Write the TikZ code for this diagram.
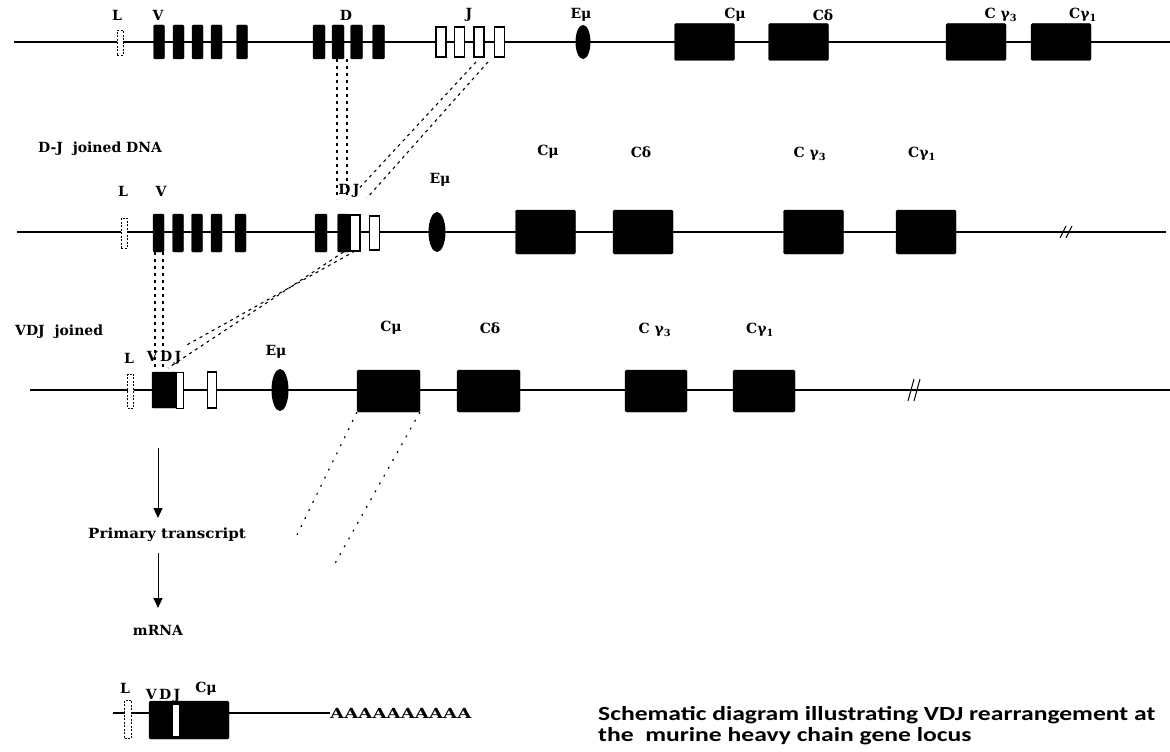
\documentclass[tikz,border=0pt]{standalone}
\usepackage{fontspec}
\setmainfont{DejaVu Serif}
\newfontfamily\capfont{Carlito}
\usetikzlibrary{shapes.geometric,arrows.meta,calc}
\begin{document}
\begin{tikzpicture}[x=1pt,y=-1pt,
  dna/.style={line width=1.6pt},
  blk/.style={fill=black,draw=black,rounded corners=1.2pt,inner sep=0,outer sep=0,minimum width=11pt,minimum height=34pt},
  opn/.style={fill=white,draw=black,line width=1.2pt,inner sep=0,outer sep=0,minimum width=10pt,minimum height=30pt},
  ldash/.style={fill=white,draw=black,dashed,dash pattern=on 2pt off 1.5pt,line width=0.9pt,inner sep=0,outer sep=0,minimum width=6pt,minimum height=25pt},
  cbox/.style={fill=black,draw=black,rounded corners=1.5pt,inner sep=0,outer sep=0,minimum width=60pt,minimum height=37pt},
  enh/.style={ellipse,fill=black,inner sep=0,outer sep=0,minimum width=15pt,minimum height=34pt},
  lbl/.style={font=\fontsize{14}{15}\selectfont\bfseries,inner sep=1pt},
  conn/.style={line width=1.1pt,dash pattern=on 3pt off 4pt},
  brk/.style={line width=1pt},
  arr/.style={line width=0.9pt,-{Triangle[width=9pt,length=10pt]}}
]
\useasboundingbox (0,0) rectangle (1170,752);

% ================= Row 1: germline =================
\draw[dna] (14,42) -- (1170,42);
\node[ldash] (L1) at (120,43) {};
\foreach \x [count=\i] in {159,178.5,197.5,216.5,242}
  \node[blk] (v1\i) at (\x,42) {};
\foreach \x [count=\i] in {319,338,356.5,378.5}
  \node[blk,minimum width=12pt] (d1\i) at (\x,42) {};
\foreach \x [count=\i] in {441,459.5,479,499.5}
  \node[opn] (j1\i) at (\x,42) {};
\node[enh] (e1) at (583,42) {};
\node[cbox] (cm1) at (704.5,42) {};
\node[cbox] (cd1) at (798.5,42) {};
\node[cbox] (cg31) at (976,42) {};
\node[cbox] (cg11) at (1061,42) {};
\node[lbl] (tL1) at (117,15) {L};
\node[lbl] (tV1) at (158,15) {V};
\node[lbl] (tD1) at (346,15) {D};
\node[lbl] (tJ1) at (469,15) {J};
\node[lbl] (tE1) at (581,15) {Eμ};
\node[lbl] (tCm1) at (735,15) {Cμ};
\node[lbl] (tCd1) at (823,15) {Cδ};
\node[lbl] (tCg31) at (1001,15) {C γ\textsubscript{3}};
\node[lbl] (tCg11) at (1083,15) {Cγ\textsubscript{1}};

% ================= Row 2: D-J joined =================
\node[lbl,anchor=west] (t2) at (37,149) {D-J \ joined DNA};
\draw[dna] (17,232) -- (1166,232);
\node[ldash,minimum height=30pt] (L2) at (124,233) {};
\foreach \x [count=\i] in {158.5,178,197,216.5,240.5}
  \node[blk,minimum height=38pt] (v2\i) at (\x,233) {};
\node[blk,minimum width=12pt,minimum height=38pt] (d21) at (321,233) {};
\node[blk,minimum width=12pt,minimum height=38pt] (djD) at (343.5,233) {};
\node[opn,minimum width=10pt,minimum height=36pt] (djJ) at (355,233) {};
\node[opn,minimum width=10pt,minimum height=34pt] (j22) at (374.5,233) {};
\node[enh,minimum width=17pt,minimum height=40pt] (e2) at (437,232) {};
\node[cbox,minimum height=44pt] (cm2) at (545.5,232) {};
\node[cbox,minimum height=44pt] (cd2) at (643,232) {};
\node[cbox,minimum height=44pt] (cg32) at (813.5,232) {};
\node[cbox,minimum height=44pt] (cg12) at (926,232) {};
\draw[brk] (1060,238) -- (1066,226) (1066,238) -- (1072,226);
\node[lbl] (tL2) at (123,191) {L};
\node[lbl] (tV2) at (161,191) {V};
\node[lbl] (tDJ2) at (349,191) {D\,J};
\node[lbl] (tE2) at (440,180) {Eμ};
\node[lbl] (tCm2) at (548,152) {Cμ};
\node[lbl] (tCd2) at (641,152) {Cδ};
\node[lbl] (tCg32) at (810,154) {C γ\textsubscript{3}};
\node[lbl] (tCg12) at (922,154) {Cγ\textsubscript{1}};

% ================= Row 3: VDJ joined =================
\node[lbl,anchor=west] (t3) at (14,332) {VDJ \ joined};
\draw[dna] (30,390) -- (1170,390);
\node[ldash,minimum height=34pt] (L3) at (130.5,391) {};
\node[blk,minimum width=25pt,minimum height=36pt,rounded corners=1pt] (vdj3) at (164.5,390) {};
\node[opn,minimum width=7pt,minimum height=36pt,line width=1pt] (vdjJ) at (180,390) {};
\node[opn,minimum width=9pt,minimum height=36pt] (j32) at (212,390) {};
\node[enh,minimum width=17pt,minimum height=42pt] (e3) at (280,390) {};
\node[cbox,minimum width=63pt,minimum height=42pt] (cm3) at (388.5,391) {};
\node[cbox,minimum width=63pt,minimum height=42pt] (cd3) at (488.5,391) {};
\node[cbox,minimum width=62pt,minimum height=42pt] (cg33) at (656,391) {};
\node[cbox,minimum width=62pt,minimum height=42pt] (cg13) at (764,391) {};
\draw[brk] (908,401) -- (914,379) (914,401) -- (920,379);
\node[lbl] (tL3) at (129,358) {L};
\node[lbl] (tVDJ3) at (164,358) {V\,D\,J};
\node[lbl] (tE3) at (276,352) {Eμ};
\node[lbl] (tCm3) at (391,328) {Cμ};
\node[lbl] (tCd3) at (490,328) {Cδ};
\node[lbl] (tCg33) at (655,330) {C γ\textsubscript{3}};
\node[lbl] (tCg13) at (760,330) {Cγ\textsubscript{1}};

% ================= connectors between rows =================
\coordinate (a1) at (337,199);
\coordinate (a2) at (347,199);
\draw[conn] (d12.south -| a1) -- (a1);
\draw[conn] (d12.south -| a2) -- (a2);
\coordinate (b1s) at (476,62);
\coordinate (b2s) at (488,62);
\draw[conn] (b1s) -- (352,196);
\draw[conn] (b2s) -- (367,198);
\coordinate (c1e) at (155,370);
\coordinate (c2e) at (163,370);
\draw[conn] (v21.south -| c1e) -- (c1e);
\draw[conn] (v21.south -| c2e) -- (c2e);
\coordinate (d1e) at (168,368);
\coordinate (d2e) at (185,346);
\draw[conn] (djD.south) -- (d1e);
\draw[conn] (djJ.south) -- (d2e);
\coordinate (f1e) at (297,535);
\coordinate (f2e) at (333,567);
\draw[conn,dash pattern=on 2pt off 7pt] (cm3.south west) -- (f1e);
\draw[conn,dash pattern=on 2pt off 7pt] (cm3.south east) -- (f2e);

% ================= transcript =================
\coordinate (ar1) at (158,448);
\coordinate (ar1e) at (158,518);
\coordinate (ar2) at (158,553);
\coordinate (ar2e) at (158,608);
\node[lbl] (pt) at (167,535) {\scalebox{1.08}[1]{Primary transcript}};
\node[lbl] (mr) at (158,630) {mRNA};
\draw[arr] (ar1) -- (ar1e);
\draw[arr] (ar2) -- (ar2e);

% ================= mRNA =================
\draw[dna] (113,713) -- (149,713);
\node[ldash,minimum height=38pt,minimum width=7pt] (L4) at (128,719) {};
\node[blk,minimum width=80pt,minimum height=38pt,rounded corners=1.5pt] (m4) at (189,720) {};
\node[fill=white,inner sep=0,minimum width=6pt,minimum height=31pt] (s4) at (176,720.5) {};
\node[lbl,anchor=west,inner sep=0] (poly) at (330,713) {\scalebox{1.3}[1]{AAAAAAAAAA}};
\draw[dna] (m4.east |- 0,713) -- (poly.west);
\node[lbl] (tL4) at (125,688) {L};
\node[lbl] (tVDJ4) at (163,696) {V\,D\,J};
\node[lbl] (tCm4) at (206,689) {Cμ};

% ================= caption =================
\node[anchor=base west,inner sep=0,font=\capfont\fontsize{20}{22}\selectfont\bfseries] (cap1) at (598,720)
  {\scalebox{1.28}[1]{Schematic diagram illustrating VDJ rearrangement at}};
\node[anchor=base west,inner sep=0,font=\capfont\fontsize{20}{22}\selectfont\bfseries] (cap2) at (598,741)
  {\scalebox{1.28}[1]{the \ murine heavy chain gene locus}};
\end{tikzpicture}
\end{document}
